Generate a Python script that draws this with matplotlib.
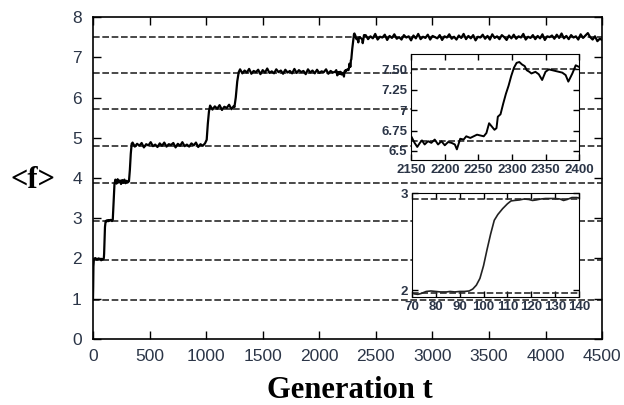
import matplotlib
matplotlib.use("Agg")
import matplotlib.pyplot as plt
import numpy as np

plt.rcParams['font.family'] = ['Liberation Sans', 'DejaVu Sans']

# fitness levels (dashed lines)
levels = [0.98, 1.97, 2.94, 3.87, 4.80, 5.71, 6.62, 7.50]

# early part of the run, t < 70
t_early = [0, 2, 4, 8, 20, 35, 50, 62]
f_early = [0.98, 1.30, 1.80, 1.98, 2.01, 1.97, 2.00, 1.98]

# lower inset: first jump, t = 70..140
t_low = [70, 71, 72.5, 74, 76, 78, 80, 82, 84.5, 86, 88, 90, 92, 94, 95.5, 97,
         98.5, 100, 101.5, 103, 104.5, 106, 108, 110, 111.5, 113, 115, 117,
         119, 120.5, 122, 124, 126, 128, 130, 132, 133.5, 135, 137, 139, 140]
f_low = [1.97, 1.96, 1.955, 1.965, 1.985, 1.99, 1.985, 1.98, 1.98, 1.985, 1.98,
         1.985, 1.985, 1.99, 2.01, 2.05, 2.12, 2.25, 2.42, 2.58, 2.72, 2.78,
         2.84, 2.89, 2.92, 2.925, 2.93, 2.94, 2.935, 2.925, 2.93, 2.94, 2.945,
         2.945, 2.945, 2.94, 2.925, 2.935, 2.955, 2.955, 2.95]

# steps 3 -> 4 -> 5
t_mid = [148, 158, 168, 175, 182, 190, 198, 208, 218, 228, 238, 248, 258, 268,
         278, 288, 298, 308, 318, 326, 334, 342]
f_mid = [2.94, 2.96, 2.93, 2.97, 3.40, 3.85, 3.96, 3.86, 3.97, 3.89, 3.94, 3.85,
         3.95, 3.88, 3.96, 3.87, 3.93, 3.89, 3.92, 4.20, 4.60, 4.85]

# plateau near 4.8, t = 350..990
f_p5 = [4.88, 4.78, 4.85, 4.80, 4.87, 4.76, 4.84, 4.81, 4.89, 4.79, 4.83, 4.77,
        4.86, 4.80, 4.88, 4.78, 4.84, 4.82, 4.87, 4.76, 4.85, 4.80, 4.89, 4.79,
        4.83, 4.78, 4.86, 4.81, 4.88, 4.77, 4.84, 4.80, 4.86]
t_r6 = [1005, 1015, 1025]
f_r6 = [4.95, 5.35, 5.65]
# plateau near 5.75, t = 1035..1245
f_p6 = [5.80, 5.70, 5.78, 5.72, 5.81, 5.69, 5.77, 5.74, 5.82, 5.71, 5.79]
t_r7 = [1250, 1262, 1275, 1288]
f_r7 = [5.76, 6.00, 6.40, 6.63]
# plateau near 6.65, t = 1300..2140
f_p7 = [6.70, 6.60, 6.67, 6.62, 6.71, 6.59, 6.66, 6.63, 6.69, 6.58, 6.68, 6.62,
        6.72, 6.61, 6.65, 6.60, 6.70, 6.63, 6.67, 6.59, 6.69, 6.62, 6.66, 6.60,
        6.71, 6.61, 6.68, 6.63, 6.66, 6.58, 6.70, 6.62, 6.67, 6.60, 6.69, 6.61,
        6.65, 6.63, 6.70, 6.59, 6.66, 6.62, 6.64]

# upper inset: last jump, t = 2150..2400
t_top = [2150, 2155, 2159, 2163, 2166, 2170, 2175, 2180, 2185, 2190, 2195, 2200,
         2205, 2210, 2215, 2218, 2223, 2228, 2232, 2238, 2243, 2248, 2253, 2258,
         2262, 2266, 2270, 2274, 2277, 2279, 2283, 2287, 2291, 2295, 2299, 2303,
         2307, 2311, 2315, 2319, 2322, 2326, 2329, 2335, 2340, 2345, 2350, 2355,
         2360, 2365, 2370, 2375, 2380, 2384, 2390, 2395, 2400]
f_top = [6.68, 6.60, 6.55, 6.60, 6.63, 6.58, 6.62, 6.60, 6.64, 6.58, 6.62, 6.57,
         6.61, 6.60, 6.58, 6.52, 6.65, 6.64, 6.68, 6.66, 6.68, 6.70, 6.69, 6.68,
         6.72, 6.84, 6.80, 6.76, 6.78, 6.92, 6.95, 7.08, 7.20, 7.30, 7.42, 7.52,
         7.58, 7.59, 7.56, 7.54, 7.49, 7.47, 7.45, 7.47, 7.44, 7.37, 7.47, 7.50,
         7.49, 7.48, 7.47, 7.46, 7.43, 7.35, 7.45, 7.55, 7.53]

# plateau near 7.5, t = 2410..4500
f_p8 = [7.55, 7.45, 7.52, 7.47, 7.58, 7.44, 7.51, 7.49, 7.56, 7.43,
        7.53, 7.48, 7.57, 7.46, 7.50, 7.44, 7.55, 7.49, 7.52, 7.42,
        7.54, 7.47, 7.58, 7.45, 7.51, 7.48, 7.56, 7.44, 7.53, 7.50,
        7.47, 7.55, 7.43, 7.52, 7.49, 7.57, 7.46, 7.51, 7.44, 7.54,
        7.48, 7.58, 7.45, 7.53, 7.47, 7.55, 7.42, 7.51, 7.49, 7.56,
        7.46, 7.53, 7.44, 7.57, 7.48, 7.52, 7.45, 7.55, 7.50, 7.43,
        7.54, 7.47, 7.56, 7.46, 7.52, 7.49, 7.58, 7.44, 7.51, 7.48,
        7.55, 7.45, 7.53, 7.47, 7.57, 7.43, 7.52, 7.50, 7.54, 7.46,
        7.56, 7.48, 7.59, 7.47, 7.53, 7.45, 7.55, 7.49, 7.52, 7.44,
        7.57, 7.48, 7.54, 7.60, 7.50, 7.44, 7.52, 7.40, 7.46, 7.43]

# assemble the full run
t_main = np.concatenate([t_early, t_low, t_mid,
                         np.linspace(350, 990, len(f_p5)), t_r6,
                         np.linspace(1035, 1245, len(f_p6)), t_r7,
                         np.linspace(1300, 2140, len(f_p7)), t_top,
                         np.linspace(2410, 4500, len(f_p8))])
f_main = np.concatenate([f_early, f_low, f_mid, f_p5, f_r6, f_p6, f_r7, f_p7,
                         f_top, f_p8])

tick_color = '#2b3547'
dash = (0, (4.0, 1.6))

fig = plt.figure(figsize=(6.24, 4.05), dpi=100)

# main panel
ax = fig.add_axes([0.149, 0.163, 0.816, 0.795])
for lv in levels:
    ax.axhline(lv, color='#2a2a2a', lw=1.2, linestyle=dash, zorder=1)
ax.plot(t_main, f_main, color='black', lw=1.6, zorder=2)
ax.set_xlim(0, 4500)
ax.set_ylim(0, 8)
ax.set_xticks(np.arange(0, 4501, 500))
ax.set_yticks(np.arange(0, 9, 1))
ax.tick_params(direction='in', length=6, width=1, top=True, right=True,
               labelsize=12.5, labelcolor=tick_color)
ax.tick_params(axis='x', pad=7)
ax.tick_params(axis='y', pad=8)
for sp in ax.spines.values():
    sp.set_linewidth(1.2)

fig.text(33 / 624, 1 - 180 / 405, '<f>', family='Liberation Serif',
         fontsize=22, fontweight='bold', ha='center', va='center')
fig.text(350 / 624, 1 - 390 / 405, 'Generation t', family='Liberation Serif',
         fontsize=22, fontweight='bold', ha='center', va='center')

# upper inset
ax1 = fig.add_axes([0.659, 0.605, 0.269, 0.262], facecolor='white')
for lv in [6.62, 7.50]:
    ax1.axhline(lv, color='#2a2a2a', lw=1.2, linestyle=dash)
ax1.plot(t_top, f_top, color='black', lw=1.4)
ax1.set_xlim(2150, 2400)
ax1.set_ylim(6.39, 7.69)
ax1.set_xticks([2150, 2200, 2250, 2300, 2350, 2400],
               ['2150', '2200', '2250', '2300', '2350', '2400'],
               fontweight='bold')
ax1.set_yticks([6.5, 6.75, 7.0, 7.25, 7.5],
               ['6.5', '6.75', '7', '7.25', '7.50'], fontweight='bold')
ax1.tick_params(direction='in', length=4, width=1, top=True, right=True,
                labelsize=9.5, labelcolor=tick_color, pad=3)

# lower inset
ax2 = fig.add_axes([0.660, 0.266, 0.268, 0.257], facecolor='white')
for lv in [1.973, 2.943]:
    ax2.axhline(lv, color='#2a2a2a', lw=1.2, linestyle=dash)
ax2.plot(t_low, f_low, color='#222222', lw=1.2)
ax2.set_xlim(70, 140)
ax2.set_ylim(1.925, 3.0)
ax2.set_xticks(np.arange(70, 141, 10),
               ['70', '80', '90', '100', '110', '120', '130', '140'],
               fontweight='bold')
ax2.set_yticks([2, 3], ['2', '3'], fontweight='bold')
ax2.tick_params(direction='in', length=4, width=1, top=True, right=True,
                labelsize=9.5, labelcolor=tick_color, pad=3)

fig.savefig('out.png', dpi=100)
